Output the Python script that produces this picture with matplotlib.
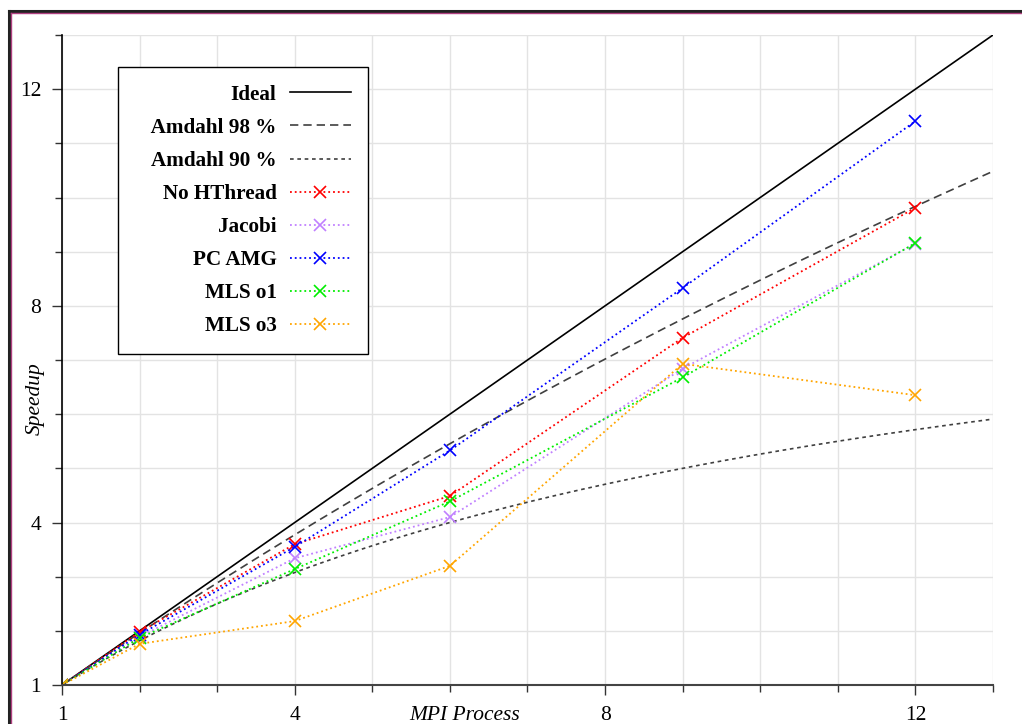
import numpy as np
import matplotlib
matplotlib.use('Agg')
import matplotlib.pyplot as plt
from matplotlib.lines import Line2D

# measured speedups
procs = [1, 2, 4, 6, 9, 12]
no_hthread = [1, 1.98, 3.60, 4.49, 7.41, 9.81]
jacobi = [1, 1.89, 3.34, 4.10, 6.84, 9.15]
pc_amg = [1, 1.93, 3.55, 5.33, 8.33, 11.41]
mls_o1 = [1, 1.87, 3.14, 4.39, 6.68, 9.16]
mls_o3 = [1, 1.76, 2.18, 3.20, 6.93, 6.35]

series = [('No HThread', no_hthread, 'red'),
          ('Jacobi', jacobi, '#c080ff'),
          ('PC AMG', pc_amg, 'blue'),
          ('MLS o1', mls_o1, '#00ee00'),
          ('MLS o3', mls_o3, '#ffa500')]

amdahl_fracs = [0.98, 0.90]
xmax = 13
major_ticks = [1, 4, 8, 12]

plt.rcParams['font.family'] = ['Liberation Serif', 'DejaVu Serif']

fig = plt.figure(figsize=(10.22, 7.24), dpi=100)
ax = fig.add_axes([62/1022, 1-685/724, 931/1022, 650/724])

n = np.linspace(1, xmax, 300)
ax.plot(n, n, color='black', lw=1.2, label='Ideal')
# leading spaces only widen the legend's label column (labels are right aligned)
ax.plot(n, 1/((1-amdahl_fracs[0]) + amdahl_fracs[0]/n), color='#404040', lw=1.2,
        dashes=(5, 3), label='   Amdahl 98 %')
ax.plot(n, 1/((1-amdahl_fracs[1]) + amdahl_fracs[1]/n), color='#404040', lw=1.2,
        dashes=(2.2, 2.2), label='Amdahl 90 %')

for name, vals, col in series:
    ax.plot(procs, vals, ls=':', lw=1.3, color=col, marker='x', ms=8, mew=1.2, label=name)

ax.set_xlim(1, xmax)
ax.set_ylim(1, xmax)
ax.set_xticks(major_ticks)
ax.set_yticks(major_ticks)
minor = [v for v in range(1, xmax+1) if v not in major_ticks]
ax.set_xticks(minor, minor=True)
ax.set_yticks(minor, minor=True)
ax.grid(True, which='both', color='#e3e3e3', lw=1)
ax.set_axisbelow(True)
ax.tick_params(which='major', length=7, width=1, labelsize=15.5, pad=8, color='#333333')
ax.tick_params(which='minor', length=5, width=1, color='#333333')

for s in ['top', 'right']:
    ax.spines[s].set_visible(False)
ax.spines['left'].set_color('black')
ax.spines['bottom'].set_color('#444444')
ax.spines['left'].set_linewidth(1.2)
ax.spines['bottom'].set_linewidth(1.5)

ax.set_xlabel('MPI Process', fontsize=15.5, style='italic')
ax.xaxis.set_label_coords(0.433, -0.033)
ax.set_ylabel('Speedup', fontsize=15.5, style='italic')
ax.yaxis.set_label_coords(-0.019, 0.44)

leg = ax.legend(loc='upper left', bbox_to_anchor=(0.0605, 0.951), borderaxespad=0,
                markerfirst=False, fancybox=False, framealpha=1, edgecolor='black',
                prop={'weight': 'bold', 'size': 15.2}, labelspacing=0.62,
                handlelength=2.85, handletextpad=0.65, borderpad=0.85)
leg.get_frame().set_linewidth(1.0)
for t in leg.get_texts():
    t.set_ha('right')
leg._legend_box.align = 'right'

# figure frame (top and left edge)
fig.add_artist(Line2D([9/1022, 1], [1-11/724, 1-11/724], color='#222222', lw=2.2))
fig.add_artist(Line2D([9/1022, 9/1022], [0, 1-11/724], color='#222222', lw=2.2))
fig.add_artist(Line2D([11/1022, 1], [1-13/724, 1-13/724], color='#b04080', lw=1.0))
fig.add_artist(Line2D([11/1022, 11/1022], [0, 1-13/724], color='#b04080', lw=1.0))

fig.savefig('out.png', dpi=100)
